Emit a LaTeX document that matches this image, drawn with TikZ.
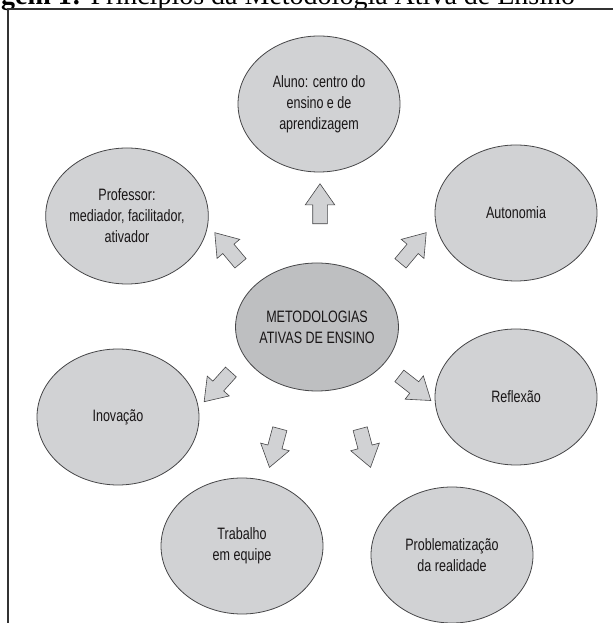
\documentclass[tikz,border=0pt]{standalone}
\usepackage{fontspec}
\setmainfont{Liberation Serif}
\newfontfamily\narrowsans[FakeStretch=0.76]{Liberation Sans}
\usetikzlibrary{shapes.geometric,shapes.arrows}
\definecolor{bubblegray}{RGB}{209,210,212}
\definecolor{hubgray}{RGB}{190,191,193}
\definecolor{edgegray}{RGB}{70,70,72}
\definecolor{textgray}{RGB}{25,22,23}

\begin{document}
\begin{tikzpicture}[x=1pt, y=1pt,
    bubble/.style={ellipse, draw=edgegray, fill=bubblegray, line width=0.8pt, minimum width=162pt, minimum height=136pt, inner sep=0pt, align=center, text=textgray, font=\narrowsans\fontsize{16.5}{21}\selectfont},
    hub/.style={bubble, fill=hubgray, minimum width=156pt, minimum height=128pt},
    seta/.style={single arrow, draw=edgegray, fill=bubblegray, line width=0.6pt, minimum height=40pt, inner xsep=0pt, inner ysep=7pt, single arrow head extend=7.5pt, single arrow tip angle=70}]

\useasboundingbox (0,0) rectangle (613,623);

% caption and frame
\node[anchor=base west, inner sep=0pt, font=\fontsize{28}{30}\selectfont] (titulo) at (1,618) {\textbf{gem 1:} Princípios da Metodologia Ativa de Ensino};
\draw[black!80, line width=1.2pt] (613,614) -- (8,614) -- (8,0);

\node[hub] (centro) at (317,296) {METODOLOGIAS\\ATIVAS DE ENSINO};

\node[bubble] (aluno) at (319,519) {Aluno: centro do\\ensino e de\\aprendizagem};
\node[bubble] (prof) at (127,407) {Professor:\\mediador, facilitador,\\ativador};
\node[bubble] (auto) at (516,410) {Autonomia};
\node[bubble] (inov) at (118,206) {Inovação};
\node[bubble] (refl) at (516,226) {Reflexão};
\node[bubble] (trab) at (242,77) {Trabalho\\em equipe};
\node[bubble] (probl) at (452,68) {Problematização\\da realidade};

% block arrows out of the hub
\node[seta, rotate=90] (s1) at (320,414) {};
\node[seta, rotate=130] (s2) at (231,371) {};
\node[seta, rotate=50] (s3) at (410,371) {};
\node[seta, rotate=228] (s4) at (221,240) {};
\node[seta, rotate=-38] (s5) at (411,238) {};
\node[seta, rotate=255] (s6) at (276,180) {};
\node[seta, rotate=285] (s7) at (364,180) {};

\end{tikzpicture}
\end{document}
